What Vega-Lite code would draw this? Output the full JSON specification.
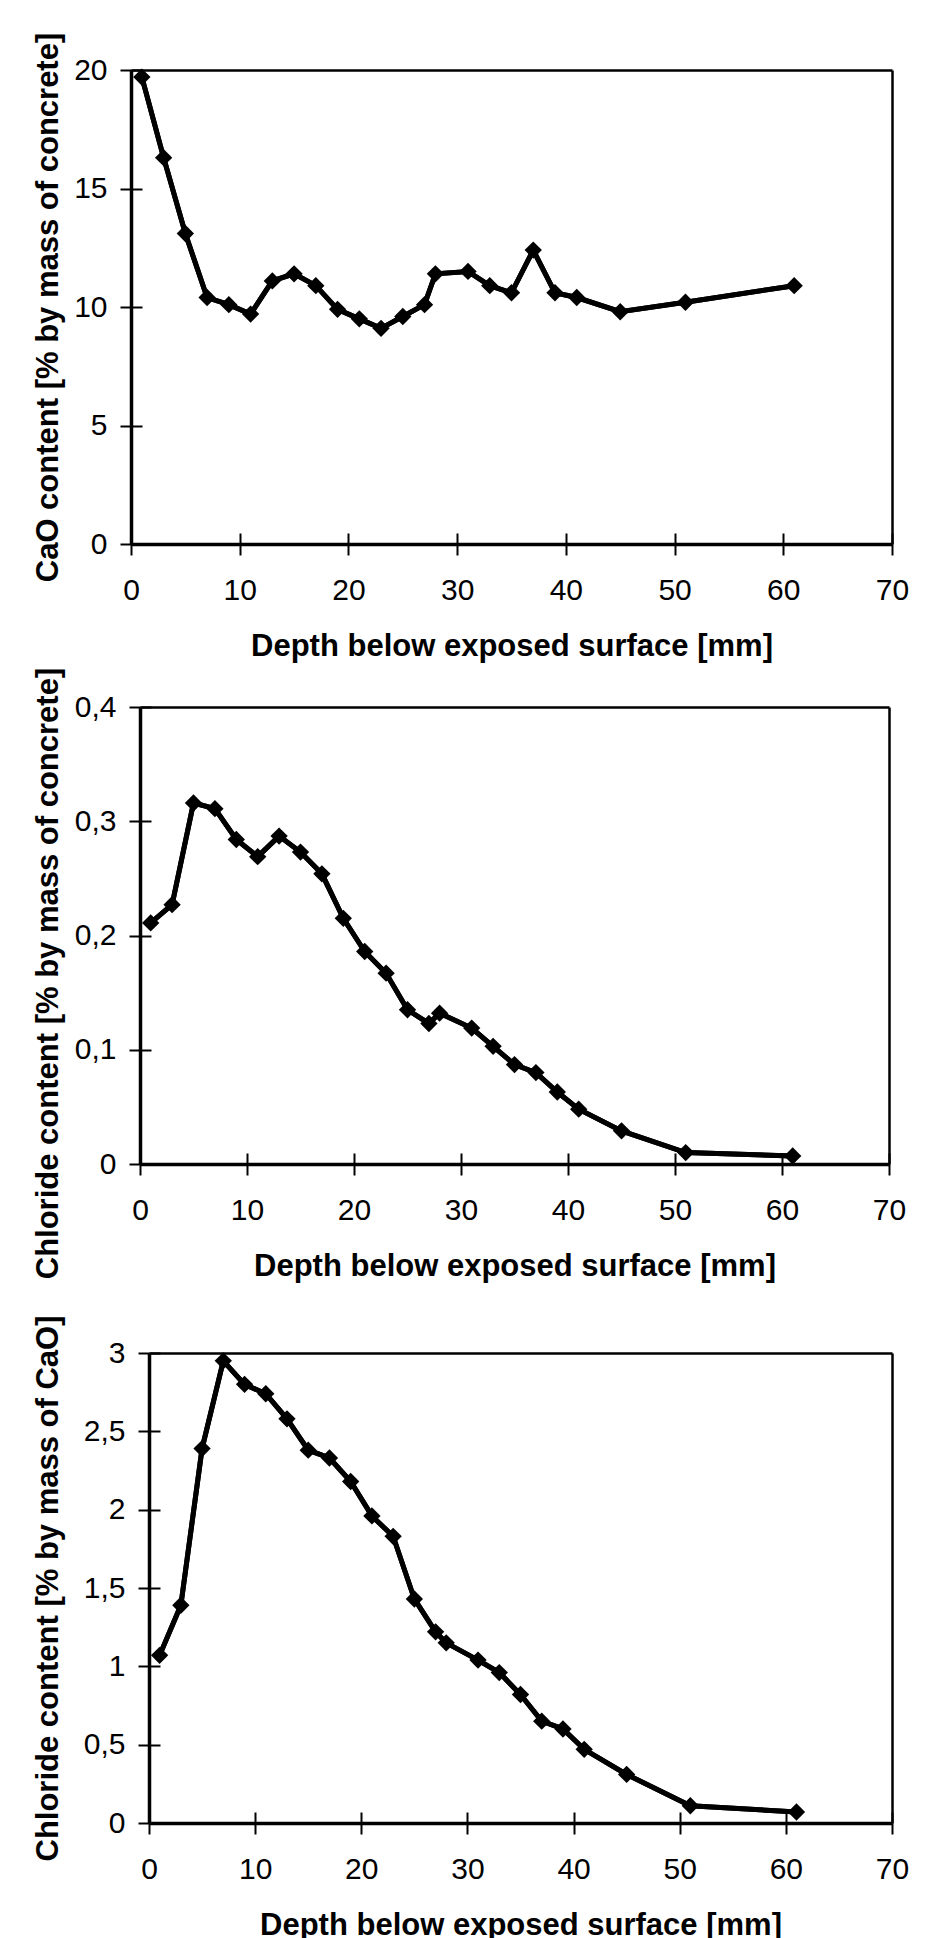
{
  "$schema": "https://vega.github.io/schema/vega-lite/v6.json",
  "background": "white",
  "padding": {"left": 31, "top": 32, "right": 5, "bottom": 0},
  "datasets": {
    "cao": [
      {"depth": 1, "value": 19.7}, {"depth": 3, "value": 16.3}, {"depth": 5, "value": 13.1},
      {"depth": 7, "value": 10.4}, {"depth": 9, "value": 10.1}, {"depth": 11, "value": 9.7},
      {"depth": 13, "value": 11.1}, {"depth": 15, "value": 11.4}, {"depth": 17, "value": 10.9},
      {"depth": 19, "value": 9.9}, {"depth": 21, "value": 9.5}, {"depth": 23, "value": 9.1},
      {"depth": 25, "value": 9.6}, {"depth": 27, "value": 10.1}, {"depth": 28, "value": 11.4},
      {"depth": 31, "value": 11.5}, {"depth": 33, "value": 10.9}, {"depth": 35, "value": 10.6},
      {"depth": 37, "value": 12.4}, {"depth": 39, "value": 10.6}, {"depth": 41, "value": 10.4},
      {"depth": 45, "value": 9.8}, {"depth": 51, "value": 10.2}, {"depth": 61, "value": 10.9}
    ],
    "clconc": [
      {"depth": 1, "value": 0.211}, {"depth": 3, "value": 0.227}, {"depth": 5, "value": 0.316},
      {"depth": 7, "value": 0.311}, {"depth": 9, "value": 0.284}, {"depth": 11, "value": 0.269},
      {"depth": 13, "value": 0.287}, {"depth": 15, "value": 0.273}, {"depth": 17, "value": 0.254},
      {"depth": 19, "value": 0.215}, {"depth": 21, "value": 0.186}, {"depth": 23, "value": 0.167},
      {"depth": 25, "value": 0.135}, {"depth": 27, "value": 0.123}, {"depth": 28, "value": 0.132},
      {"depth": 31, "value": 0.119}, {"depth": 33, "value": 0.103}, {"depth": 35, "value": 0.087},
      {"depth": 37, "value": 0.080}, {"depth": 39, "value": 0.063}, {"depth": 41, "value": 0.048},
      {"depth": 45, "value": 0.029}, {"depth": 51, "value": 0.010}, {"depth": 61, "value": 0.007}
    ],
    "clcao": [
      {"depth": 1, "value": 1.07}, {"depth": 3, "value": 1.39}, {"depth": 5, "value": 2.39},
      {"depth": 7, "value": 2.95}, {"depth": 9, "value": 2.80}, {"depth": 11, "value": 2.74},
      {"depth": 13, "value": 2.58}, {"depth": 15, "value": 2.38}, {"depth": 17, "value": 2.33},
      {"depth": 19, "value": 2.18}, {"depth": 21, "value": 1.96}, {"depth": 23, "value": 1.83},
      {"depth": 25, "value": 1.43}, {"depth": 27, "value": 1.22}, {"depth": 28, "value": 1.15},
      {"depth": 31, "value": 1.04}, {"depth": 33, "value": 0.96}, {"depth": 35, "value": 0.82},
      {"depth": 37, "value": 0.65}, {"depth": 39, "value": 0.60}, {"depth": 41, "value": 0.47},
      {"depth": 45, "value": 0.31}, {"depth": 51, "value": 0.11}, {"depth": 61, "value": 0.07}
    ]
  },
  "config": {
    "font": "Liberation Sans",
    "view": {"stroke": null},
    "axis": {
      "domainColor": "black", "domainWidth": 3.5,
      "tickColor": "black", "tickWidth": 2, "tickSize": 11,
      "labelFont": "Liberation Sans", "labelFontSize": 30, "labelColor": "black",
      "titleFont": "Liberation Sans", "titleFontSize": 31, "titleFontWeight": "bold", "titleColor": "black",
      "titleBaseline": "middle",
      "grid": false, "labelFlush": false, "labelOverlap": false
    },
    "axisX": {"labelPadding": 20},
    "axisY": {"labelPadding": 13}
  },
  "columns": 1,
  "spacing": 6,
  "concat": [
    {
      "width": 761, "height": 474,
      "data": {"name": "cao"},
      "resolve": {"axis": {"x": "independent", "y": "independent"}},
      "layer": [
        {
          "mark": {"type": "line", "color": "black", "strokeWidth": 5},
          "encoding": {
            "x": {"field": "depth", "type": "quantitative", "scale": {"domain": [0, 70], "nice": false, "range": [0, 761]},
                  "axis": {"orient": "bottom", "title": "Depth below exposed surface [mm]", "values": [0, 10, 20, 30, 40, 50, 60, 70], "titleY": 102}},
            "y": {"field": "value", "type": "quantitative", "scale": {"domain": [0, 20], "nice": false},
                  "axis": {"orient": "left", "title": "CaO content [% by mass of concrete]", "values": [0, 5, 10, 15, 20], "titleX": -83}}
          }
        },
        {
          "mark": {"type": "line", "color": "black", "strokeWidth": 5},
          "encoding": {
            "x": {"field": "depth", "type": "quantitative",
                  "axis": {"orient": "top", "title": null, "labels": false, "ticks": false, "domainWidth": 2.5}},
            "y": {"field": "value", "type": "quantitative",
                  "axis": {"orient": "right", "title": null, "labels": false, "ticks": false, "domainWidth": 2.5}}
          }
        },
        {
          "mark": {"type": "point", "shape": "diamond", "filled": true, "color": "black", "size": 300, "opacity": 1},
          "encoding": {
            "x": {"field": "depth", "type": "quantitative",
                  "axis": {"orient": "bottom", "offset": -11, "title": null, "labels": false, "domain": false, "values": [0, 10, 20, 30, 40, 50, 60, 70]}},
            "y": {"field": "value", "type": "quantitative",
                  "axis": {"orient": "left", "offset": -11, "title": null, "labels": false, "domain": false, "values": [0, 5, 10, 15, 20]}}
          }
        }
      ]
    },
    {
      "columns": 1,
      "spacing": 33,
      "concat": [
        {
          "width": 758, "height": 457,
          "data": {"name": "clconc"},
          "resolve": {"axis": {"x": "independent", "y": "independent"}},
          "layer": [
            {
              "mark": {"type": "line", "color": "black", "strokeWidth": 5},
              "encoding": {
                "x": {"field": "depth", "type": "quantitative", "scale": {"domain": [0, 70], "nice": false, "range": [9, 758]},
                      "axis": {"orient": "bottom", "title": "Depth below exposed surface [mm]", "values": [0, 10, 20, 30, 40, 50, 60, 70], "titleY": 102}},
                "y": {"field": "value", "type": "quantitative", "scale": {"domain": [0, 0.4], "nice": false},
                      "axis": {"orient": "left", "offset": -9, "title": "Chloride content [% by mass of concrete]", "values": [0, 0.1, 0.2, 0.3, 0.4],
                               "labelExpr": "replace(format(datum.value, '~g'), '.', ',')", "titleX": -92, "titleY": 266}}
              }
            },
            {
              "mark": {"type": "line", "color": "black", "strokeWidth": 5},
              "encoding": {
                "x": {"field": "depth", "type": "quantitative",
                      "axis": {"orient": "top", "title": null, "labels": false, "ticks": false, "domainWidth": 2.5}},
                "y": {"field": "value", "type": "quantitative",
                      "axis": {"orient": "right", "title": null, "labels": false, "ticks": false, "domainWidth": 2.5}}
              }
            },
            {
              "mark": {"type": "point", "shape": "diamond", "filled": true, "color": "black", "size": 300, "opacity": 1},
              "encoding": {
                "x": {"field": "depth", "type": "quantitative",
                      "axis": {"orient": "bottom", "offset": -11, "title": null, "labels": false, "domain": false, "values": [0, 10, 20, 30, 40, 50, 60, 70]}},
                "y": {"field": "value", "type": "quantitative",
                      "axis": {"orient": "left", "offset": -20, "title": null, "labels": false, "domain": false, "values": [0, 0.1, 0.2, 0.3, 0.4]}}
              }
            }
          ]
        },
        {
          "width": 761, "height": 470,
          "data": {"name": "clcao"},
          "resolve": {"axis": {"x": "independent", "y": "independent"}},
          "layer": [
            {
              "mark": {"type": "line", "color": "black", "strokeWidth": 5},
              "encoding": {
                "x": {"field": "depth", "type": "quantitative", "scale": {"domain": [0, 70], "nice": false, "range": [18, 761]},
                      "axis": {"orient": "bottom", "title": "Depth below exposed surface [mm]", "values": [0, 10, 20, 30, 40, 50, 60, 70], "titleY": 102}},
                "y": {"field": "value", "type": "quantitative", "scale": {"domain": [0, 3], "nice": false},
                      "axis": {"orient": "left", "offset": -18, "title": "Chloride content [% by mass of CaO]", "values": [0, 0.5, 1, 1.5, 2, 2.5, 3],
                               "labelExpr": "replace(format(datum.value, '~g'), '.', ',')", "titleX": -101}}
              }
            },
            {
              "mark": {"type": "line", "color": "black", "strokeWidth": 5},
              "encoding": {
                "x": {"field": "depth", "type": "quantitative",
                      "axis": {"orient": "top", "title": null, "labels": false, "ticks": false, "domainWidth": 2.5}},
                "y": {"field": "value", "type": "quantitative",
                      "axis": {"orient": "right", "title": null, "labels": false, "ticks": false, "domainWidth": 2.5}}
              }
            },
            {
              "mark": {"type": "point", "shape": "diamond", "filled": true, "color": "black", "size": 300, "opacity": 1},
              "encoding": {
                "x": {"field": "depth", "type": "quantitative",
                      "axis": {"orient": "bottom", "offset": -11, "title": null, "labels": false, "domain": false, "values": [0, 10, 20, 30, 40, 50, 60, 70]}},
                "y": {"field": "value", "type": "quantitative",
                      "axis": {"orient": "left", "offset": -29, "title": null, "labels": false, "domain": false, "values": [0, 0.5, 1, 1.5, 2, 2.5, 3]}}
              }
            }
          ]
        }
      ]
    }
  ]
}
